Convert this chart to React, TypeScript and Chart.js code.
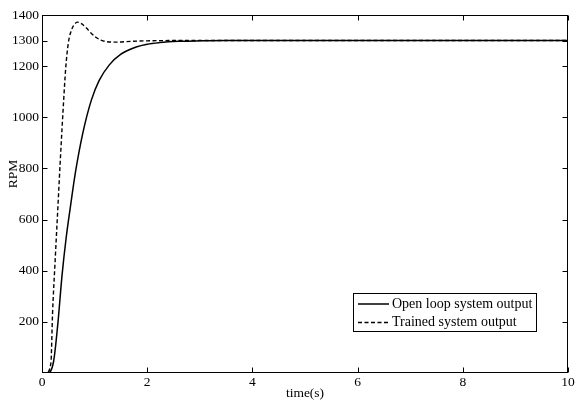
import React, { useEffect, useRef } from "react";
import { Chart, registerables } from "chart.js";

Chart.register(...registerables);

// Open loop system output (time in s, RPM)
const openTime = [0, 0.1, 0.22, 0.3, 0.38, 0.46, 0.54, 0.64, 0.78, 0.94, 1.09, 1.28, 1.5, 1.79, 2.0, 2.23, 2.6, 3.0, 3.5, 10];
const openRPM = [0, 0, 45, 190, 380, 530, 650, 790, 942, 1068, 1145, 1205, 1247, 1275, 1286, 1292, 1297, 1299, 1300, 1300];

// Trained system output
const trainedTime = [0, 0.08, 0.17, 0.2, 0.25, 0.3, 0.35, 0.41, 0.45, 0.5, 0.55, 0.6, 0.67, 0.75, 0.84, 0.93, 1.03, 1.12, 1.22, 1.4, 1.7, 2.0, 2.4, 10];
const trainedRPM = [0, 0, 40, 230, 440, 640, 840, 1060, 1190, 1290, 1335, 1358, 1372, 1366, 1350, 1330, 1312, 1302, 1296, 1294, 1297, 1299, 1300, 1300];

const xTicks = [0, 2, 4, 6, 8, 10];
const yTicks = [200, 400, 600, 800, 1000, 1200, 1300, 1400];
const seriesLabels = ["Open loop system output", "Trained system output"];
const xTitle = "time(s)";
const yTitle = "RPM";

const FONT = "'Liberation Serif', 'Times New Roman', serif";

const framePlugin = {
  id: "matlabFrame",
  afterDatasetsDraw(chart: any) {
    const { ctx, chartArea: a, scales } = chart;
    const xs = scales.x;
    const ys = scales.y;
    ctx.save();
    ctx.strokeStyle = "#000";
    ctx.lineWidth = 1;
    const L = Math.round(a.left) + 0.5;
    const R = Math.round(a.right) - 0.5;
    const T = Math.round(a.top) + 0.5;
    const B = Math.round(a.bottom) - 0.5;
    ctx.strokeRect(L, T, R - L, B - T);
    const tl = 5;
    ctx.beginPath();
    xTicks.forEach((v) => {
      const px = Math.round(xs.getPixelForValue(v)) + 0.5;
      ctx.moveTo(px, B);
      ctx.lineTo(px, B - tl);
      ctx.moveTo(px, T);
      ctx.lineTo(px, T + tl);
    });
    yTicks.forEach((v) => {
      const py = Math.round(ys.getPixelForValue(v)) + 0.5;
      ctx.moveTo(L, py);
      ctx.lineTo(L + tl, py);
      ctx.moveTo(R, py);
      ctx.lineTo(R - tl, py);
    });
    ctx.stroke();

    // axis titles
    ctx.fillStyle = "#000";
    ctx.font = `13.5px ${FONT}`;
    ctx.textAlign = "center";
    ctx.textBaseline = "middle";
    ctx.fillText(xTitle, (a.left + a.right) / 2, 393);
    ctx.save();
    ctx.translate(13.5, 174);
    ctx.rotate(-Math.PI / 2);
    ctx.fillText(yTitle, 0, 0);
    ctx.restore();

    // legend
    const bx = 353, by = 293, bw = 183, bh = 38;
    ctx.fillStyle = "#fff";
    ctx.fillRect(bx, by, bw, bh);
    ctx.strokeStyle = "#000";
    ctx.lineWidth = 1;
    ctx.strokeRect(bx + 0.5, by + 0.5, bw, bh);
    const rows = [304, 322.5];
    chart.data.datasets.forEach((ds: any, i: number) => {
      const y = rows[i];
      ctx.save();
      ctx.strokeStyle = ds.borderColor;
      ctx.lineWidth = ds.borderWidth;
      ctx.setLineDash(ds.borderDash || []);
      ctx.beginPath();
      ctx.moveTo(358, y);
      ctx.lineTo(389, y);
      ctx.stroke();
      ctx.restore();
      ctx.fillStyle = "#000";
      ctx.font = `14px ${FONT}`;
      ctx.textAlign = "left";
      ctx.textBaseline = "middle";
      ctx.fillText(ds.label, 392, y);
    });
    ctx.restore();
  },
};

export default function App() {
  const ref = useRef<HTMLCanvasElement | null>(null);
  useEffect(() => {
    if (!ref.current) return;
    const chart = new Chart(ref.current, {
      type: "line",
      data: {
        datasets: [
          {
            label: seriesLabels[0],
            data: openTime.map((t, i) => ({ x: t, y: openRPM[i] })),
            borderColor: "#000",
            borderWidth: 1.5,
            pointRadius: 0,
            cubicInterpolationMode: "monotone",
            fill: false,
          },
          {
            label: seriesLabels[1],
            data: trainedTime.map((t, i) => ({ x: t, y: trainedRPM[i] })),
            borderColor: "#000",
            borderWidth: 1.4,
            borderDash: [4, 2.5],
            pointRadius: 0,
            cubicInterpolationMode: "monotone",
            fill: false,
          },
        ],
      },
      options: {
        animation: false,
        responsive: false,
        devicePixelRatio: 1,
        layout: { padding: { left: 0, top: 15, right: 9, bottom: 0 } },
        plugins: { legend: { display: false }, tooltip: { enabled: false } },
        scales: {
          x: {
            type: "linear",
            min: 0,
            max: 10,
            afterBuildTicks: (s: any) => {
              s.ticks = xTicks.map((v) => ({ value: v }));
            },
            afterFit: (s: any) => {
              s.height = 27;
            },
            grid: { display: false, drawTicks: false },
            border: { display: false },
            ticks: {
              color: "#000",
              padding: 1,
              maxRotation: 0,
              autoSkip: false,
              font: { family: FONT, size: 13.5 },
              callback: (v: any) => String(v),
            },
          },
          y: {
            type: "linear",
            min: 0,
            max: 1400,
            afterBuildTicks: (s: any) => {
              s.ticks = yTicks.map((v) => ({ value: v }));
            },
            afterFit: (s: any) => {
              s.width = 42;
            },
            grid: { display: false, drawTicks: false },
            border: { display: false },
            ticks: {
              color: "#000",
              padding: 3,
              autoSkip: false,
              font: { family: FONT, size: 13.5 },
              callback: (v: any) => String(v),
            },
          },
        },
      },
      plugins: [framePlugin],
    } as any);
    return () => chart.destroy();
  }, []);
  return (
    <div style={{ position: "fixed", left: 0, top: 0, width: 577, height: 400, background: "#fff" }}>
      <canvas ref={ref} width={577} height={400} style={{ width: 577, height: 400 }} />
    </div>
  );
}
